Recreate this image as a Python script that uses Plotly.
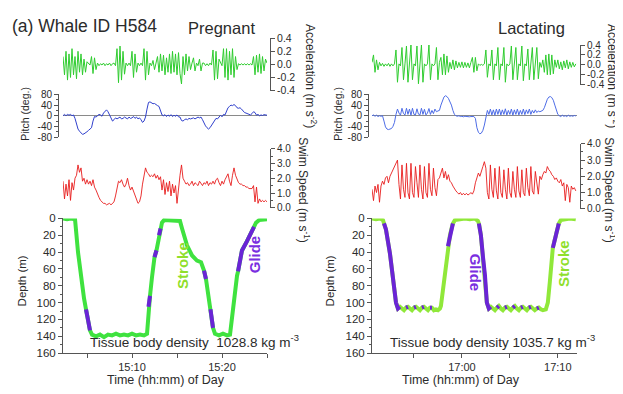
import plotly.graph_objects as go

# The page body has an 8 px default margin, so the figure is sized to fit the
# 623x394 window and all positions below are given in window pixels.
WIN_W, WIN_H = 623, 394
OFF = 8
W, H = WIN_W - OFF, WIN_H - OFF
FONT = "Liberation Sans, Arial, Helvetica, sans-serif"
AX = "#555555"
TXT = "#2b2b2b"

# ---------------- data ----------------
# Left panel (Pregnant): time in minutes after 15:00; right panel (Lactating): minutes after 16:50
left_start_min = 2.333
left_step_min = 1 / 6            # sensor sampling interval (min)
right_start_min = 0.625
right_step_min = 0.15625

left_accel = [
    0.12, -0.16, 0.2, -0.24, 0.16, -0.2, 0.24, -0.16, 0.12, -0.22,
    0.2, -0.12, 0.16, -0.16, 0.08, -0.12, 0.04, 0.02, -0.01, 0.12,
    -0.14, 0.1, -0.08, 0.02, -0.02, 0.01, -0.01, 0.02, -0.02, 0.01,
    -0.01, 0.02, -0.02, 0.01, 0.02, -0.02, 0.24, -0.28, 0.28, -0.24,
    0.2, -0.15, 0.02, -0.02, 0.02, -0.02, 0.2, -0.2, 0.16, -0.12,
    0.02, -0.02, 0.02, -0.02, 0.24, -0.24, 0.2, -0.16, 0.02, -0.02,
    0.06, -0.08, 0.02, 0.12, -0.12, 0.16, -0.1, 0.14, -0.16, 0.1,
    -0.12, 0.16, -0.14, 0.2, -0.12, 0.16, -0.16, 0.18, -0.14, -0.3,
    0.12, -0.16, 0.16, -0.1, 0.12, -0.08, 0.02, 0.1, -0.1, 0.02,
    -0.02, 0.08, -0.1, 0.02, 0.02, -0.02, 0.01, -0.02, 0.02, -0.01,
    0.22, -0.24, 0.2, -0.22, 0.08, 0.02, -0.02, 0.24, -0.2, 0.24,
    -0.24, 0.2, -0.16, 0.24, -0.2, 0.12, -0.08, 0.01, -0.01, 0.01,
    -0.01, 0.01, -0.01, 0.01, -0.01, 0.01, -0.01, 0.12, -0.16, 0.14,
    -0.12, 0.16, -0.14, 0.12, -0.1, 0.08, 0.02,
]
left_pitch = [
    0, 5, 0, 5, 2, 5, 0, 3, -10, -35,
    -50, -58, -65, -70, -68, -62, -60, -55, -50, -45,
    -20, -3, -5, 0, 5, 3, -2, 10, 18, 22,
    15, 5, -10, -20, -15, -8, -12, -8, -5, -12,
    -10, -5, -8, -12, -5, -10, -8, -3, -10, -5,
    -12, -8, -15, -25, -20, -5, 25, 50, 52, 48,
    45, 46, 40, 38, 35, 20, 3, 0, 4, -3,
    3, -2, 4, -3, 2, -2, 3, -4, -5, -18,
    -20, -15, -12, -15, -10, -12, -10, -8, -12, -8,
    -5, -8, -5, -15, -30, -38, -45, -50, -45, -35,
    -25, -15, -10, -12, -3, 2, -4, 5, 3, 15,
    30, 35, 40, 38, 42, 38, 30, 28, 30, 25,
    18, 12, 10, 8, 5, 3, 8, 15, 12, 2,
    5, 0, 3, 1, 4, 2, 2,
]
left_speed = [
    1.8, 0.6, 1.6, 0.8, 1.9, 0.5, 1.7, 1.2, 2.0, 2.2,
    2.9, 2.4, 2.7, 1.8, 2.0, 1.6, 1.9, 1.6, 1.8, 1.5,
    1.9, 1.4, 1.2, 0.9, 0.7, 0.5, 0.4, 0.3, 0.3, 0.2,
    0.25, 0.3, 0.2, 0.3, 0.4, 0.8, 1.3, 1.8, 1.7, 1.9,
    1.6, 1.4, 1.6, 2.0, 1.5, 1.2, 1.4, 1.1, 0.8, 0.5,
    0.3, 0.4, 0.8, 1.6, 2.2, 2.7, 2.4, 2.3, 2.1, 2.2,
    2.1, 2.3, 2.0, 2.2, 1.9, 2.1, 1.2, 1.9, 0.9, 1.7,
    1.1, 1.8, 0.8, 1.6, 1.0, 1.5, 0.3, 1.4, 2.2, 2.9,
    2.0, 1.8, 1.6, 1.7, 1.5, 1.6, 1.8, 1.5, 1.7, 1.6,
    1.5, 1.8, 1.6, 1.5, 1.7, 1.6, 1.8, 1.5, 1.7, 1.6,
    1.8, 1.6, 1.9, 2.0, 1.7, 1.5, 1.8, 1.6, 1.9, 2.1,
    2.3, 1.8, 1.5, 2.2, 2.7, 2.2, 1.9, 1.7, 1.6, 1.6,
    1.5, 1.5, 1.4, 1.4, 1.3, 1.3, 1.3, 1.5, 0.4, 1.4,
    0.3, 0.6, 0.4, 0.5, 0.4, 0.5, 0.4,
]
right_accel = [
    0.05, 0.2, -0.15, 0.1, -0.1, 0.05, -0.02, 0.03, -0.03, 0.02,
    -0.02, 0.03, -0.03, 0.02, -0.02, 0.02, 0.3, -0.35, 0.02, -0.02,
    0.35, -0.3, 0.02, 0.38, -0.35, 0.02, 0.4, -0.3, 0.02, -0.02,
    0.38, -0.38, 0.02, 0.4, -0.35, 0.02, -0.02, 0.02, 0.4, -0.3,
    0.02, -0.02, 0.02, 0.35, -0.3, 0.05, 0.15, -0.2, 0.22, -0.2,
    0.18, -0.15, 0.05, -0.08, 0.1, -0.1, 0.08, -0.06, 0.05, -0.05,
    0.06, -0.06, 0.05, -0.05, 0.04, -0.06, 0.05, 0.15, -0.15, 0.15,
    -0.12, 0.02, -0.01, 0.01, -0.01, 0.02, 0.3, -0.25, 0.02, -0.02,
    0.3, -0.3, 0.02, -0.02, 0.35, -0.3, 0.02, -0.02, 0.35, -0.35,
    0.02, -0.02, 0.02, 0.38, -0.3, 0.02, 0.35, -0.3, 0.02, -0.02,
    0.38, -0.32, 0.02, -0.02, 0.32, -0.3, 0.02, 0.35, -0.3, 0.02,
    0.35, -0.28, 0.05, -0.05, 0.1, -0.15, 0.2, -0.2, 0.22, -0.2,
    0.2, -0.18, 0.1, -0.05, 0.1, -0.08, 0.06, -0.1, 0.08, -0.06,
    0.1, -0.08, 0.06, -0.05, 0.05, -0.04, 0.02,
]
right_pitch = [
    0, 3, -2, 2, -3, 0, -2, 0, -20, -42,
    -50, -52, -50, -48, -40, -25, 5, 25, 10, 2,
    28, 8, 3, 28, 5, 25, 2, 28, 5, 3,
    26, 6, 3, 28, 5, 24, 3, 10, 27, 5,
    20, 8, 25, 15, 18, 20, 40, 60, 70, 75,
    72, 65, 55, 40, 20, 5, 0, -2, 0, -3,
    -2, -4, -2, -3, -2, -4, -3, -2, -3, -10,
    -45, -62, -68, -65, -55, -35, -5, 20, 5, 25,
    3, 22, 2, 25, 5, 25, 3, 22, 5, 26,
    3, 20, 5, 25, 2, 22, 5, 25, 3, 20,
    5, 25, 4, 22, 8, 25, 5, 20, 10, 22,
    12, 18, 15, 18, 20, 30, 50, 62, 70, 72,
    68, 58, 40, 20, 5, 0, -3, 2, -2, 0,
    -3, 2, -2, 0, -2, 1, -1,
]
right_speed = [
    1.2, 0.5, 1.4, 1.0, 1.5, 0.4, 1.4, 1.7, 1.5, 1.9,
    2.0, 1.6, 2.0, 2.2, 2.4, 2.6, 2.9, 3.0, 1.5, 0.6,
    2.7, 1.2, 0.7, 2.8, 1.0, 0.6, 2.8, 1.0, 0.7, 2.6,
    1.6, 0.7, 2.7, 1.2, 0.6, 2.6, 1.0, 0.7, 2.8, 1.2,
    0.8, 2.5, 1.3, 0.8, 1.8, 1.9, 2.2, 2.5, 1.9, 2.3,
    1.8, 2.1, 1.7, 1.6, 1.4, 1.2, 1.1, 1.0, 0.9, 1.0,
    0.85, 0.95, 0.85, 0.95, 0.85, 0.9, 1.0, 0.9, 1.1, 1.6,
    2.0, 2.2, 2.0, 2.4, 2.6, 2.9, 2.5, 1.0, 0.6, 2.7,
    1.2, 0.7, 2.5, 1.1, 0.6, 2.6, 1.0, 0.7, 2.4, 1.2,
    0.6, 2.5, 1.0, 0.7, 2.3, 1.2, 0.7, 2.6, 1.1, 0.7,
    2.4, 1.0, 0.8, 2.5, 1.3, 0.8, 2.6, 1.1, 0.9, 2.3,
    1.4, 0.9, 2.0, 1.8, 2.1, 2.3, 2.2, 2.6, 2.4, 2.3,
    2.1, 2.0, 1.8, 1.9, 1.7, 1.6, 1.8, 1.4, 1.6, 0.5,
    1.5, 1.3, 0.4, 1.4, 1.2, 1.3, 1.1,
]

# Depth profiles: time (min), depth (m), phase per point (S = stroke, G = glide)
left_depth_time = [
    2.33, 2.78, 3.22, 3.67, 4.00, 4.33, 4.67, 4.89, 5.33, 5.56,
    6.00, 6.44, 6.89, 7.33, 7.78, 8.22, 8.67, 9.11, 9.56, 10.00,
    10.44, 10.89, 11.33, 11.67, 11.83, 12.00, 12.22, 12.50, 12.72, 12.89,
    13.00, 13.17, 13.33, 13.56, 14.00, 14.44, 14.89, 15.33, 15.56, 16.11,
    16.67, 17.22, 17.67, 17.89, 18.00, 18.22, 18.44, 18.72, 19.00, 19.22,
    19.67, 20.11, 20.56, 20.89, 21.22, 21.67, 21.78, 22.22, 22.78, 23.22,
    23.56, 23.78, 24.11, 24.56, 25.00,
]
left_depth = [
    0, 1, 0, 1, 40, 70, 95, 108, 133, 138,
    140, 138, 141, 138, 139, 137, 139, 138, 139, 137,
    139, 138, 139, 137, 105, 92, 70, 46, 38, 28,
    20, 12, 5, 2, 2, 3, 2, 3, 12, 32,
    44, 50, 52, 57, 62, 72, 90, 108, 130, 137,
    139, 137, 139, 138, 105, 68, 63, 38, 27, 17,
    10, 5, 2, 1, 1,
]
left_phase = ("SSSSSSSGGS" "SSSSSSSSSS" "SSSSGGSGGS" "GGSSSSSSSS"
              "SSSSGGSGGS" "SSSSSSGGGG" "GSSSS")

right_depth_time = [
    0.625, 1.04, 1.46, 1.77, 1.875, 2.08, 2.50, 2.81, 3.125, 3.33,
    3.54, 3.75, 3.96, 4.17, 4.375, 4.58, 4.79, 5.00, 5.21, 5.42,
    5.625, 5.83, 6.04, 6.25, 6.46, 6.67, 6.875, 7.08, 7.29, 7.50,
    7.71, 7.81, 8.02, 8.23, 8.44, 8.54, 8.75, 8.96, 9.06, 9.27,
    9.79, 10.31, 10.83, 11.35, 11.67, 11.77, 11.98, 12.19, 12.40, 12.60,
    12.81, 13.02, 13.23, 13.44, 13.65, 13.85, 14.06, 14.27, 14.48, 14.69,
    14.90, 15.10, 15.31, 15.52, 15.73, 15.94, 16.15, 16.35, 16.56, 16.77,
    16.98, 17.19, 17.40, 17.60, 17.81, 18.02, 18.23, 18.44, 18.75, 18.96,
    19.17, 19.375, 19.48, 19.69, 19.90, 20.10, 20.31, 20.73, 21.25, 21.875,
]
right_depth = [
    0, 1, 0, 2, 6, 13, 42, 67, 100, 107,
    105, 107, 109, 106, 105, 107, 109, 106, 105, 107,
    109, 106, 105, 107, 109, 106, 106, 109, 108, 109,
    107, 104, 85, 65, 42, 33, 20, 10, 6, 2,
    1, 0, 1, 0, 3, 6, 20, 45, 67, 100,
    107, 105, 107, 109, 106, 104, 107, 109, 106, 105,
    107, 109, 106, 104, 107, 109, 106, 105, 107, 109,
    106, 105, 107, 109, 107, 106, 108, 109, 108, 100,
    75, 45, 35, 25, 14, 6, 2, 1, 0, 1,
]
right_phase = ("SSSSGGGGGG" "GSSGGSSGGS" "SGGSSGGSSS" "SSSSSGGGGS"
               "SSSSSGGGGG" "GGSSGGSSGG" "SSGGSSGGSS" "GGSSGGSSSS"
               "SSGGGGSSSS")

left_time_ticks = [5, 10, 15, 20, 25]
left_time_labels = ["", "15:10", "", "15:20", ""]
right_time_ticks = [5, 10, 15, 20]
right_time_labels = ["", "17:00", "", "17:10"]
depth_ticks = [0, 20, 40, 60, 80, 100, 120, 140, 160]
accel_ticks = [-0.4, -0.2, 0.0, 0.2, 0.4]
accel_labels = ["-0.4", "-0.2", "0.0", "0.2", "0.4"]
pitch_ticks = [-80, -40, 0, 40, 80]
pitch_labels = ["-80", "-40", "0", "40", "80"]
speed_ticks = [0, 1, 2, 3, 4]
speed_labels = ["0.0", "1.0", "2.0", "3.0", "4.0"]


# ---------------- helpers ----------------
def px(x):
    return (x - OFF) / W


def py(y):
    return 1 - (y - OFF) / H


def sample_times(start, step, values):
    return [start + i * step for i in range(len(values))]


def glide_xy(t, d, ph):
    xs, ys = [], []
    for i in range(len(t)):
        if ph[i] == "G":
            if xs and ph[i - 1] != "G":
                xs.append(None)
                ys.append(None)
            xs.append(t[i])
            ys.append(d[i])
    return xs, ys


fig = go.Figure()


def line(x, y, xa, ya, color, width):
    fig.add_trace(go.Scatter(x=x, y=y, xaxis=xa, yaxis=ya, mode="lines",
                             line=dict(color=color, width=width),
                             hoverinfo="skip", showlegend=False))


# Left panel traces
line(sample_times(left_start_min, left_step_min, left_accel), left_accel, "x2", "y2", "#2fcc2f", 1)
line(sample_times(left_start_min, left_step_min, left_pitch), left_pitch, "x3", "y3", "#3040cc", 1)
line(sample_times(left_start_min, left_step_min, left_speed), left_speed, "x4", "y4", "#e81c1c", 0.9)
line(left_depth_time, left_depth, "x", "y", "#3fe23f", 4)
gx, gy = glide_xy(left_depth_time, left_depth, left_phase)
line(gx, gy, "x", "y", "#6a24d6", 4)

# Right panel traces
line(sample_times(right_start_min, right_step_min, right_accel), right_accel, "x6", "y6", "#2fcc2f", 1)
line(sample_times(right_start_min, right_step_min, right_pitch), right_pitch, "x7", "y7", "#4d6ce6", 1)
line(sample_times(right_start_min, right_step_min, right_speed), right_speed, "x8", "y8", "#e81c1c", 0.9)
line(right_depth_time, right_depth, "x5", "y5", "#90e83a", 4)
gx, gy = glide_xy(right_depth_time, right_depth, right_phase)
line(gx, gy, "x5", "y5", "#6a24d6", 4)


# ---------------- axes ----------------
def hidden_x(domain, rng, anchor):
    return dict(domain=domain, range=rng, anchor=anchor, visible=False, fixedrange=True)


def time_x(domain, rng, anchor, vals, texts):
    return dict(domain=domain, range=rng, anchor=anchor, showline=True, linecolor=AX,
                linewidth=1, ticks="outside", ticklen=4, tickcolor=AX,
                tickmode="array", tickvals=vals, ticktext=texts,
                tickfont=dict(size=11, color=TXT, family=FONT),
                showgrid=False, zeroline=False, fixedrange=True)


def val_y(domain, rng, side, vals, texts, size, anchor="free", position=None,
          minor=None, zeroline=False):
    d = dict(domain=domain, range=rng, anchor=anchor, side=side, showline=True,
             linecolor=AX, linewidth=1, ticks="outside", ticklen=4, tickcolor=AX,
             tickmode="array", tickvals=vals, ticktext=texts,
             tickfont=dict(size=size, color=TXT, family=FONT),
             showgrid=False, zeroline=zeroline, fixedrange=True)
    if position is not None:
        d["position"] = position
    if minor is not None:
        d["minor"] = dict(dtick=minor, tick0=0, ticks="outside", ticklen=2,
                          tickcolor=AX, showgrid=False)
    if zeroline:
        d["zerolinecolor"] = "#8a8a8a"
        d["zerolinewidth"] = 1
    return d


L_DOM = [px(63), px(267)]
R_DOM = [px(372), px(577)]
L_RNG = [2.333, 25.0]
R_RNG = [0.625, 22.0]
DEPTH_DOM = [py(358), py(219)]

layout_axes = dict(
    xaxis=time_x(L_DOM, L_RNG, "y", left_time_ticks, left_time_labels),
    yaxis=val_y(DEPTH_DOM, [160, 0], "left", depth_ticks, [str(v) for v in depth_ticks],
                11.5, anchor="x", minor=10),
    xaxis2=hidden_x(L_DOM, L_RNG, "y2"),
    yaxis2=val_y([py(87), py(33)], [-0.4, 0.4], "right", accel_ticks, accel_labels, 10.5,
                 position=px(270)),
    xaxis3=hidden_x(L_DOM, L_RNG, "y3"),
    yaxis3=val_y([py(135), py(91)], [-80, 80], "left", pitch_ticks, pitch_labels, 10,
                 position=px(58), minor=20, zeroline=True),
    xaxis4=hidden_x(L_DOM, L_RNG, "y4"),
    yaxis4=val_y([py(208), py(147)], [0, 4], "right", speed_ticks, speed_labels, 10,
                 position=px(270), minor=0.5),
    xaxis5=time_x(R_DOM, R_RNG, "y5", right_time_ticks, right_time_labels),
    yaxis5=val_y(DEPTH_DOM, [160, 0], "left", depth_ticks, [str(v) for v in depth_ticks],
                 11.5, anchor="x5", minor=10),
    xaxis6=hidden_x(R_DOM, R_RNG, "y6"),
    yaxis6=val_y([py(81), py(40)], [-0.4, 0.4], "right", accel_ticks, accel_labels, 10,
                 position=px(580)),
    xaxis7=hidden_x(R_DOM, R_RNG, "y7"),
    yaxis7=val_y([py(135), py(91)], [-80, 80], "left", pitch_ticks, pitch_labels, 10,
                 position=px(368), minor=20, zeroline=True),
    xaxis8=hidden_x(R_DOM, R_RNG, "y8"),
    yaxis8=val_y([py(209), py(142)], [0, 4], "right", speed_ticks, speed_labels, 10,
                 position=px(580), minor=0.5),
)


# ---------------- annotations ----------------
annotations = []


def ann(text, x, y, size, color=TXT, angle=0, xanchor="center", bold=False):
    if bold:
        text = "<b>" + text + "</b>"
    annotations.append(dict(text=text, x=px(x), y=py(y), xref="paper", yref="paper",
                            xanchor=xanchor, yanchor="middle", showarrow=False,
                            textangle=angle, font=dict(size=size, color=color, family=FONT)))


ann("(a) Whale ID H584", 10, 20, 17.5, xanchor="left")
ann("Pregnant", 186, 22, 16.5, xanchor="left")
ann("Lactating", 496, 22, 16.5, xanchor="left")

ann("Acceleration (m s<sup>-2</sup>)", 311, 72, 12, angle=90)
ann("Acceleration (m s<sup>-2</sup>)", 613, 72, 12, angle=90)
ann("Pitch (deg.)", 25, 111, 10.5, angle=-90)
ann("Pitch (deg.)", 338, 111, 10.5, angle=-90)
ann("Swim Speed (m s<sup>-1</sup>)", 304, 189, 12, angle=90)
ann("Swim Speed (m s<sup>-1</sup>)", 610, 189, 12, angle=90)
ann("Depth (m)", 22, 284, 11.5, angle=-90)
ann("Depth (m)", 330, 284, 11.5, angle=-90)
ann("Time (hh:mm) of Day", 166, 386, 12.5)
ann("Time (hh:mm) of Day", 461, 386, 12.5)
ann("Tissue body density  1028.8 kg m<sup>-3</sup>", 194, 346, 13.5)
ann("Tissue body density 1035.7 kg m<sup>-3</sup>", 492, 346, 13.5)

ann("Stroke", 183, 268, 15, color="#8fdf2c", angle=-90, bold=True)
ann("Glide", 254, 256, 15, color="#7a2ee0", angle=-90, bold=True)
ann("Glide", 475, 275, 15, color="#7a2ee0", angle=90, bold=True)
ann("Stroke", 564, 266, 15, color="#8fdf2c", angle=-90, bold=True)

fig.update_layout(
    width=W, height=H, autosize=False,
    margin=dict(l=0, r=0, t=0, b=0),
    paper_bgcolor="white", plot_bgcolor="rgba(0,0,0,0)",
    showlegend=False, font=dict(family=FONT, color=TXT),
    annotations=annotations,
    **layout_axes,
)

fig.write_html("out.html", config={"displayModeBar": False})
